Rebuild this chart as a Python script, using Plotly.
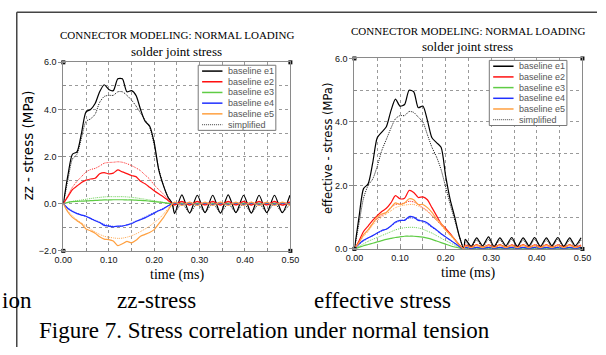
import plotly.graph_objects as go

W, H = 606, 355

# ---------------- data ----------------
T_PULSE = [0.00, 0.01, 0.02, 0.03, 0.04, 0.05, 0.06, 0.07, 0.08, 0.09, 0.10, 0.11, 0.12,
           0.13, 0.14, 0.15, 0.16, 0.17, 0.18, 0.19, 0.20, 0.21, 0.22, 0.23, 0.24]
T_TAIL_ZZ = [0.245, 0.261, 0.278, 0.295, 0.312, 0.329, 0.346, 0.363, 0.380, 0.397,
             0.414, 0.431, 0.448, 0.465, 0.482, 0.499]
T_TAIL_EFF = [0.243, 0.256, 0.268, 0.281, 0.294, 0.306, 0.319, 0.332, 0.345, 0.357, 0.370,
              0.383, 0.395, 0.408, 0.421, 0.433, 0.446, 0.459, 0.472, 0.484, 0.497]

# zz-stress (MPa)
ZZ_E1 = [0.0, 1.2, 2.1, 2.2, 3.0, 3.9, 4.0, 4.25, 4.75, 5.05, 4.85, 4.8, 5.3, 5.3, 4.75, 4.8,
         4.6, 4.0, 3.5, 3.3, 2.6, 1.45, 0.8, 0.3, 0.0]
ZZ_E1_TAIL = [-0.42, 0.38, -0.40, 0.36, -0.38, 0.36, -0.40, 0.38, -0.38, 0.36, -0.40, 0.36,
              -0.38, 0.36, -0.38, 0.36]
ZZ_S1 = [0.0, 1.0, 1.9, 2.1, 2.8, 3.5, 3.6, 3.8, 4.3, 4.55, 4.6, 4.6, 4.75, 4.75, 4.6, 4.4,
         4.15, 3.85, 3.55, 3.25, 2.5, 1.5, 0.8, 0.3, 0.0]
ZZ_S1_TAIL = [-0.38, 0.02, -0.38, 0.00, -0.36, 0.02, -0.38, 0.00, -0.36, 0.02, -0.38, 0.00,
              -0.36, 0.02, -0.36, 0.00]
ZZ_E2 = [0.0, 0.3, 0.6, 0.75, 0.9, 1.0, 1.05, 1.08, 1.27, 1.32, 1.27, 1.3, 1.44, 1.35, 1.28,
         1.2, 1.15, 0.95, 0.85, 0.7, 0.55, 0.42, 0.3, 0.15, 0.0]
ZZ_E2_TAIL = [-0.05, 0.10, -0.06, 0.10, -0.05, 0.10, -0.06, 0.10, -0.05, 0.10, -0.06, 0.10,
              -0.05, 0.10, -0.06, 0.08]
ZZ_S2 = [0.0, 0.35, 0.7, 0.95, 1.15, 1.35, 1.45, 1.5, 1.6, 1.72, 1.75, 1.76, 1.78, 1.76, 1.7,
         1.62, 1.52, 1.4, 1.22, 1.05, 0.8, 0.6, 0.42, 0.2, 0.0]
ZZ_S2_TAIL = [0.05, -0.04, 0.06, -0.04, 0.05, -0.04, 0.06, -0.04, 0.05, -0.04, 0.06, -0.04,
              0.05, -0.04, 0.05, -0.04]
ZZ_E3 = [0.0, 0.06, 0.09, 0.1, 0.11, 0.12, 0.13, 0.14, 0.15, 0.16, 0.16, 0.17, 0.17, 0.17,
         0.16, 0.16, 0.15, 0.14, 0.13, 0.11, 0.09, 0.07, 0.05, 0.02, 0.0]
ZZ_E3_TAIL = [0.02, -0.02, 0.02, -0.02, 0.02, -0.02, 0.02, -0.02, 0.02, -0.02, 0.02, -0.02,
              0.02, -0.02, 0.02, -0.02]
ZZ_S3 = [0.0, 0.05, 0.1, 0.13, 0.16, 0.19, 0.22, 0.25, 0.27, 0.29, 0.3, 0.3, 0.3, 0.3, 0.29,
         0.27, 0.25, 0.22, 0.19, 0.16, 0.12, 0.09, 0.06, 0.03, 0.0]
ZZ_S3_TAIL = [-0.01, 0.02, -0.01, 0.02, -0.01, 0.02, -0.01, 0.02, -0.01, 0.02, -0.01, 0.02,
              -0.01, 0.02, -0.01, 0.02]
ZZ_E4 = [0.0, -0.2, -0.33, -0.42, -0.48, -0.53, -0.62, -0.72, -0.8, -0.92, -0.95, -0.98,
         -0.95, -0.95, -0.9, -0.85, -0.75, -0.68, -0.6, -0.5, -0.4, -0.3, -0.22, -0.1, 0.0]
ZZ_E4_TAIL = [0.04, -0.04, 0.04, -0.04, 0.04, -0.04, 0.04, -0.04, 0.04, -0.04, 0.04, -0.04,
              0.04, -0.04, 0.04, -0.04]
ZZ_S4 = [0.0, -0.18, -0.3, -0.4, -0.47, -0.55, -0.63, -0.7, -0.78, -0.87, -0.93, -0.96,
         -0.97, -0.94, -0.9, -0.82, -0.74, -0.65, -0.56, -0.46, -0.37, -0.28, -0.19, -0.09, 0.0]
ZZ_S4_TAIL = [-0.03, 0.03, -0.03, 0.03, -0.03, 0.03, -0.03, 0.03, -0.03, 0.03, -0.03, 0.03,
              -0.03, 0.03, -0.03, 0.03]
ZZ_E5 = [0.0, -0.35, -0.58, -0.72, -0.85, -1.07, -1.15, -1.25, -1.4, -1.5, -1.52, -1.58,
         -1.78, -1.7, -1.6, -1.66, -1.55, -1.38, -1.3, -1.22, -1.1, -0.85, -0.6, -0.3, 0.0]
ZZ_E5_TAIL = [0.07, -0.07, 0.07, -0.07, 0.07, -0.07, 0.07, -0.07, 0.07, -0.07, 0.07, -0.07,
              0.07, -0.07, 0.07, -0.07]
ZZ_S5 = [0.0, -0.3, -0.52, -0.68, -0.82, -0.95, -1.08, -1.2, -1.3, -1.38, -1.42, -1.45,
         -1.47, -1.46, -1.42, -1.36, -1.28, -1.18, -1.07, -0.95, -0.8, -0.65, -0.45, -0.22, 0.0]
ZZ_S5_TAIL = [-0.06, 0.06, -0.06, 0.06, -0.06, 0.06, -0.06, 0.06, -0.06, 0.06, -0.06, 0.06,
              -0.06, 0.06, -0.06, 0.06]

# effective stress (MPa)
EF_E1 = [0.0, 1.0, 1.9, 2.05, 2.7, 3.5, 3.68, 3.85, 4.35, 4.72, 4.5, 4.55, 5.0, 4.95, 4.45,
         4.5, 4.05, 3.5, 3.35, 3.2, 2.3, 1.55, 1.0, 0.4, 0.0]
EF_E1_TAIL = [0.30, 0.08, 0.35, 0.10, 0.38, 0.08, 0.35, 0.10, 0.36, 0.08, 0.35, 0.10, 0.36,
              0.08, 0.35, 0.10, 0.36, 0.08, 0.35, 0.10, 0.35]
EF_S1 = [0.0, 0.8, 1.6, 2.0, 2.2, 2.6, 3.1, 3.45, 3.8, 4.1, 4.2, 4.2, 4.33, 4.3, 4.15, 4.0,
         3.6, 3.2, 2.9, 2.5, 1.95, 1.4, 0.9, 0.4, 0.0]
EF_S1_TAIL = [0.22, 0.05, 0.28, 0.06, 0.30, 0.05, 0.28, 0.06, 0.30, 0.05, 0.28, 0.06, 0.30,
              0.05, 0.28, 0.06, 0.30, 0.05, 0.28, 0.06, 0.28]
EF_E2 = [0.0, 0.25, 0.55, 0.72, 0.9, 1.05, 1.18, 1.28, 1.45, 1.68, 1.58, 1.6, 1.84, 1.78,
         1.62, 1.64, 1.55, 1.3, 1.05, 0.8, 0.65, 0.48, 0.3, 0.13, 0.0]
EF_E2_TAIL = [0.12, 0.05, 0.14, 0.04, 0.13, 0.05, 0.14, 0.04, 0.13, 0.05, 0.14, 0.04, 0.13,
              0.05, 0.14, 0.04, 0.13, 0.05, 0.14, 0.04, 0.12]
EF_S2 = [0.0, 0.2, 0.45, 0.6, 0.8, 0.95, 1.05, 1.15, 1.3, 1.4, 1.42, 1.45, 1.5, 1.48, 1.4,
         1.3, 1.2, 1.05, 0.9, 0.75, 0.6, 0.45, 0.3, 0.12, 0.0]
EF_S2_TAIL = [0.06, 0.10, 0.05, 0.10, 0.06, 0.10, 0.05, 0.10, 0.06, 0.10, 0.05, 0.10, 0.06,
              0.10, 0.05, 0.10, 0.06, 0.10, 0.05, 0.10, 0.06]
EF_E3 = [0.0, 0.05, 0.1, 0.14, 0.18, 0.22, 0.26, 0.3, 0.33, 0.36, 0.38, 0.4, 0.4, 0.4, 0.39,
         0.37, 0.34, 0.3, 0.25, 0.2, 0.15, 0.1, 0.06, 0.03, 0.0]
EF_E3_TAIL = [0.03, 0.01, 0.03, 0.01, 0.03, 0.01, 0.03, 0.01, 0.03, 0.01, 0.03, 0.01, 0.03,
              0.01, 0.03, 0.01, 0.03, 0.01, 0.03, 0.01, 0.03]
EF_S3 = [0.0, 0.08, 0.16, 0.24, 0.3, 0.36, 0.42, 0.48, 0.54, 0.6, 0.64, 0.67, 0.68, 0.68,
         0.66, 0.62, 0.56, 0.5, 0.42, 0.34, 0.26, 0.19, 0.12, 0.05, 0.0]
EF_S3_TAIL = [0.02, 0.01, 0.02, 0.01, 0.02, 0.01, 0.02, 0.01, 0.02, 0.01, 0.02, 0.01, 0.02,
              0.01, 0.02, 0.01, 0.02, 0.01, 0.02, 0.01, 0.02]
EF_E4 = [0.0, 0.15, 0.27, 0.35, 0.42, 0.5, 0.58, 0.62, 0.72, 0.85, 0.9, 0.9, 1.02, 1.0, 0.9,
         0.88, 0.82, 0.7, 0.6, 0.48, 0.38, 0.28, 0.18, 0.08, 0.0]
EF_E4_TAIL = [0.05, 0.02, 0.05, 0.02, 0.05, 0.02, 0.05, 0.02, 0.05, 0.02, 0.05, 0.02, 0.05,
              0.02, 0.05, 0.02, 0.05, 0.02, 0.05, 0.02, 0.05]
EF_S4 = [0.0, 0.14, 0.25, 0.34, 0.42, 0.5, 0.56, 0.63, 0.72, 0.82, 0.88, 0.92, 0.97, 0.97,
         0.93, 0.86, 0.78, 0.68, 0.58, 0.47, 0.37, 0.27, 0.17, 0.07, 0.0]
EF_S4_TAIL = [0.03, 0.04, 0.03, 0.04, 0.03, 0.04, 0.03, 0.04, 0.03, 0.04, 0.03, 0.04, 0.03,
              0.04, 0.03, 0.04, 0.03, 0.04, 0.03, 0.04, 0.03]
EF_E5 = [0.0, 0.2, 0.45, 0.6, 0.8, 1.0, 1.1, 1.15, 1.3, 1.45, 1.4, 1.45, 1.58, 1.55, 1.4,
         1.4, 1.3, 1.15, 0.95, 0.8, 0.6, 0.45, 0.3, 0.12, 0.0]
EF_E5_TAIL = [0.10, 0.04, 0.12, 0.04, 0.11, 0.04, 0.12, 0.04, 0.11, 0.04, 0.12, 0.04, 0.11,
              0.04, 0.12, 0.04, 0.11, 0.04, 0.12, 0.04, 0.10]
EF_S5 = [0.0, 0.18, 0.4, 0.55, 0.75, 0.9, 1.0, 1.1, 1.2, 1.3, 1.35, 1.38, 1.4, 1.4, 1.35,
         1.28, 1.18, 1.05, 0.9, 0.75, 0.58, 0.42, 0.28, 0.1, 0.0]
EF_S5_TAIL = [0.05, 0.08, 0.05, 0.08, 0.05, 0.08, 0.05, 0.08, 0.05, 0.08, 0.05, 0.08, 0.05,
              0.08, 0.05, 0.08, 0.05, 0.08, 0.05, 0.08, 0.05]

LEGEND_LABELS = ["baseline e1", "baseline e2", "baseline e3", "baseline e4", "baseline e5",
                 "simplified"]
SERIES_COLORS = ["#000000", "#ff1010", "#5fcc45", "#2030ff", "#ffa040"]
SIMPLIFIED_LEGEND_COLOR = "#666666"

X_TICKS = [0.0, 0.1, 0.2, 0.3, 0.4, 0.5]
ZZ_RANGE = [-2.0, 6.0]
EF_RANGE = [0.0, 6.0]

TITLE = "CONNECTOR MODELING: NORMAL LOADING"
SUBTITLE = "solder joint stress"
CAPTION_LEFT = "ion"
CAPTION_A = "zz-stress"
CAPTION_B = "effective stress"
FIGURE_CAPTION = "Figure 7. Stress correlation under normal tension"

# ---------------- figure ----------------
def px(x):
    return x / W


def py(y):
    return 1 - y / H


fig = go.Figure()

zz_base = [ZZ_E1, ZZ_E2, ZZ_E3, ZZ_E4, ZZ_E5]
zz_base_tail = [ZZ_E1_TAIL, ZZ_E2_TAIL, ZZ_E3_TAIL, ZZ_E4_TAIL, ZZ_E5_TAIL]
zz_simp = [ZZ_S1, ZZ_S2, ZZ_S3, ZZ_S4, ZZ_S5]
zz_simp_tail = [ZZ_S1_TAIL, ZZ_S2_TAIL, ZZ_S3_TAIL, ZZ_S4_TAIL, ZZ_S5_TAIL]
ef_base = [EF_E1, EF_E2, EF_E3, EF_E4, EF_E5]
ef_base_tail = [EF_E1_TAIL, EF_E2_TAIL, EF_E3_TAIL, EF_E4_TAIL, EF_E5_TAIL]
ef_simp = [EF_S1, EF_S2, EF_S3, EF_S4, EF_S5]
ef_simp_tail = [EF_S1_TAIL, EF_S2_TAIL, EF_S3_TAIL, EF_S4_TAIL, EF_S5_TAIL]

panels = [
    ("x", "y", T_TAIL_ZZ, zz_base, zz_base_tail, zz_simp, zz_simp_tail),
    ("x2", "y2", T_TAIL_EFF, ef_base, ef_base_tail, ef_simp, ef_simp_tail),
]

for xa, ya, ttail, base, btail, simp, stail in panels:
    for i in range(5):
        fig.add_trace(go.Scatter(
            x=T_PULSE + ttail, y=simp[i] + stail[i], xaxis=xa, yaxis=ya, mode="lines",
            line=dict(color=SERIES_COLORS[i], width=1, dash="1px,1px", shape="spline",
                      smoothing=0.7),
            opacity=0.9, showlegend=False, hoverinfo="skip"))
    for i in range(5):
        fig.add_trace(go.Scatter(
            x=T_PULSE + ttail, y=base[i] + btail[i], xaxis=xa, yaxis=ya, mode="lines",
            line=dict(color=SERIES_COLORS[i], width=1.2, shape="spline", smoothing=0.7),
            showlegend=False, hoverinfo="skip"))

# corner markers
for xa, ya, rng in [("x", "y", ZZ_RANGE), ("x2", "y2", EF_RANGE)]:
    fig.add_trace(go.Scatter(
        x=[X_TICKS[0], X_TICKS[-1], X_TICKS[0], X_TICKS[-1]], y=[rng[0], rng[0], rng[1], rng[1]],
        xaxis=xa, yaxis=ya, mode="markers", cliponaxis=False,
        marker=dict(symbol="square", size=4, color="#111"), showlegend=False, hoverinfo="skip"))

TICKFONT = dict(family="Liberation Sans", size=9, color="#111")
GRID = "#9a9a9a"
FRAME = "#8a8a8a"


def xaxis_cfg(dom, anchor):
    return dict(domain=dom, anchor=anchor, range=[X_TICKS[0], X_TICKS[-1]], tickvals=X_TICKS,
                tickformat=".2f", showline=True, linecolor=FRAME, linewidth=1, mirror=True,
                ticks="inside", ticklen=3, tickcolor=FRAME, showgrid=True, gridcolor=GRID,
                griddash="dot", gridwidth=1, zeroline=False, tickfont=TICKFONT,
                minor=dict(dtick=0.05, tick0=0, showgrid=True, gridcolor=GRID, griddash="dot",
                           ticks="inside", ticklen=3, tickcolor=FRAME))


def yaxis_cfg(dom, anchor, rng):
    return dict(domain=dom, anchor=anchor, range=rng, dtick=2, tick0=0, tickformat=".1f",
                showline=True, linecolor=FRAME, linewidth=1, mirror=True,
                ticks="outside", ticklen=4, tickcolor=FRAME, showgrid=True, gridcolor=GRID,
                griddash="dot", gridwidth=1, zeroline=False, tickfont=TICKFONT,
                minor=dict(dtick=1, tick0=0, showgrid=True, gridcolor=GRID, griddash="dot",
                           ticks="inside", ticklen=3, tickcolor=FRAME))


fig.update_layout(
    width=W, height=H, margin=dict(l=0, r=0, t=0, b=0),
    paper_bgcolor="white", plot_bgcolor="white", showlegend=False,
    xaxis=xaxis_cfg([px(56), px(290)], "y"),
    yaxis=yaxis_cfg([py(253), py(59)], "x", ZZ_RANGE),
    xaxis2=xaxis_cfg([px(356), px(591)], "y2"),
    yaxis2=yaxis_cfg([py(251), py(55)], "x2", EF_RANGE),
)

annotations = []
shapes = []


def text(x, y, s, size, family, color="#000", angle=0, xanchor="center"):
    annotations.append(dict(x=px(x), y=py(y), xref="paper", yref="paper", text=s,
                            showarrow=False, textangle=angle, xanchor=xanchor, yanchor="middle",
                            borderpad=0,
                            font=dict(family=family, size=size, color=color)))


# titles
for cx, ty, sy in [(173, 31, 48), (473, 27, 43)]:
    text(cx, ty, TITLE, 11, "Liberation Serif")
    text(cx, sy, SUBTITLE, 13, "Liberation Serif")

text(173, 278, "time (ms)", 14, "Liberation Serif")
text(473, 276, "time (ms)", 14, "Liberation Serif")
text(20, 144, "zz - stress (MPa)", 13.5, "DejaVu Sans", angle=-90)
text(329, 147, "effective - stress (MPa)", 11.5, "DejaVu Sans", angle=-90)

# captions
text(25, 304, CAPTION_LEFT, 23, "Liberation Serif", xanchor="right")
text(152, 304, CAPTION_A, 23, "Liberation Serif")
text(385, 304, CAPTION_B, 23, "Liberation Serif")
text(263, 335, FIGURE_CAPTION, 23, "Liberation Serif")

# manual legends
for lx0, ly0 in [(195, 62), (495, 57)]:
    shapes.append(dict(type="rect", xref="paper", yref="paper", x0=px(lx0), x1=px(lx0 + 80),
                       y0=py(ly0), y1=py(ly0 + 67), line=dict(color="#777", width=1),
                       fillcolor="white", layer="above"))
    for i, lab in enumerate(LEGEND_LABELS):
        yy = ly0 + 6 + 11 * i
        if i < 5:
            ln = dict(color=SERIES_COLORS[i], width=1.5)
        else:
            ln = dict(color=SIMPLIFIED_LEGEND_COLOR, width=1.2, dash="1px,1px")
        shapes.append(dict(type="line", xref="paper", yref="paper", x0=px(lx0 + 4),
                           x1=px(lx0 + 25), y0=py(yy), y1=py(yy), line=ln, layer="above"))
        text(lx0 + 30, yy, lab, 9, "Liberation Sans", color="#555", xanchor="left")

# page frame lines
shapes.append(dict(type="line", xref="paper", yref="paper", x0=px(8), x1=px(606), y0=py(7.5),
                   y1=py(7.5), line=dict(color="#444", width=1.5)))
shapes.append(dict(type="line", xref="paper", yref="paper", x0=px(8), x1=px(8), y0=py(7.5),
                   y1=py(352), line=dict(color="#444", width=1.5)))

fig.update_layout(annotations=annotations, shapes=shapes)
fig.write_html("out.html")
